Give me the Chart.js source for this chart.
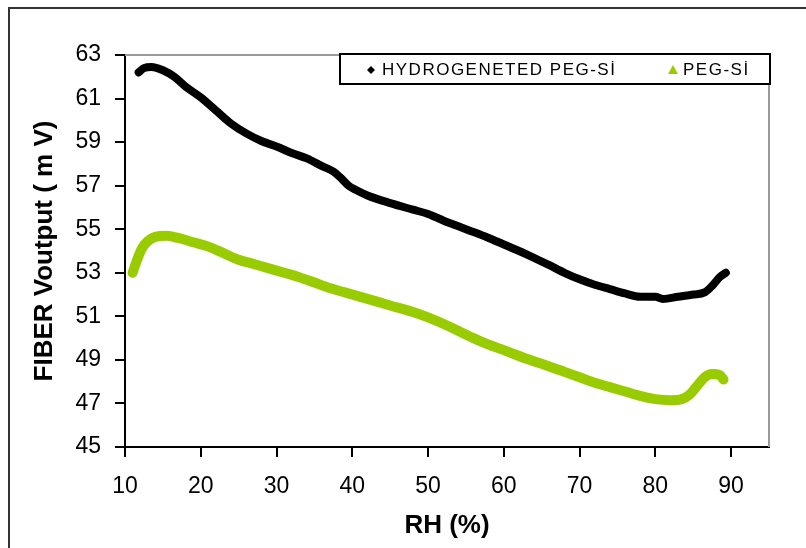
<!DOCTYPE html>
<html>
<head>
<meta charset="utf-8">
<script src="https://cdn.jsdelivr.net/npm/chart.js@4.4.1/dist/chart.umd.min.js"></script>
<style>
  body { margin: 0; background: #fff; }
  #wrap { width: 806px; height: 548px; }
</style>
</head>
<body>
<div id="wrap"><canvas id="grafico" width="806" height="548"></canvas></div>
<script>
// valores
const xTicks = [10, 20, 30, 40, 50, 60, 70, 80, 90];
const yTicks = [45, 47, 49, 51, 53, 55, 57, 59, 61, 63];

const serieNomes = ['HYDROGENETED PEG-Sİ', 'PEG-Sİ'];

const rhHidro = [11.8, 12.5, 13.5, 15, 16.5, 18, 20, 22, 24, 26, 28, 30, 32, 34, 36, 37.5, 38.5,
  39.5, 40.5, 42, 45, 48, 50, 52, 55, 58, 60, 63, 66, 68, 70, 72, 74, 76, 78, 80, 81, 83, 85,
  86.5, 87.5, 88.5, 89.3];
const vHidro = [62.2, 62.4, 62.45, 62.3, 62.0, 61.55, 61.05, 60.45, 59.85, 59.4, 59.05, 58.8,
  58.5, 58.25, 57.9, 57.65, 57.35, 57.0, 56.8, 56.55, 56.2, 55.9, 55.7, 55.4, 55.0, 54.6, 54.3,
  53.85, 53.35, 53.0, 52.7, 52.45, 52.25, 52.05, 51.9, 51.9, 51.8, 51.9, 52.0, 52.1, 52.4,
  52.8, 53.0];

const rhPeg = [11.0, 11.5, 12.2, 13, 14, 15.5, 17, 19, 21, 23, 25, 27, 29, 31, 33, 35, 37, 39,
  42, 45, 48, 50, 53, 56, 58, 60, 63, 66, 68, 70, 72, 74, 76, 78, 80, 82, 83.5, 84.5, 85.5,
  86.5, 87.5, 88.5, 89];
const vPeg = [53.0, 53.5, 54.1, 54.45, 54.65, 54.7, 54.6, 54.4, 54.2, 53.9, 53.6, 53.4, 53.2,
  53.0, 52.8, 52.55, 52.3, 52.1, 51.8, 51.5, 51.2, 50.95, 50.5, 50.0, 49.7, 49.45, 49.05, 48.7,
  48.45, 48.2, 47.95, 47.75, 47.55, 47.35, 47.2, 47.15, 47.2, 47.4, 47.8, 48.2, 48.35, 48.3, 48.1];

const pontos = (xs, ys) => xs.map((x, i) => ({ x: x, y: ys[i] }));

const fonte = 'Liberation Sans, Arial, sans-serif';

// moldura, bordas cinza e legenda com caixa
const moldura = {
  id: 'moldura',
  afterDraw(chart) {
    const ctx = chart.ctx;
    const a = chart.chartArea;
    ctx.save();
    // moldura externa
    ctx.strokeStyle = '#333';
    ctx.lineWidth = 2;
    ctx.beginPath();
    ctx.moveTo(9, 548);
    ctx.lineTo(9, 8);
    ctx.lineTo(806, 8);
    ctx.stroke();
    // bordas superior e direita da area
    ctx.strokeStyle = '#9a9a9a';
    ctx.lineWidth = 2;
    ctx.beginPath();
    ctx.moveTo(a.left, a.top);
    ctx.lineTo(a.right, a.top);
    ctx.lineTo(a.right, a.bottom);
    ctx.stroke();
    // caixa da legenda
    const bx = 340, by = 54, bw = 430, bh = 30;
    ctx.fillStyle = '#fff';
    ctx.fillRect(bx, by, bw, bh);
    ctx.strokeStyle = '#000';
    ctx.lineWidth = 2;
    ctx.strokeRect(bx, by, bw, bh);
    const ty = by + bh / 2 + 1;
    // marcador losango
    ctx.fillStyle = '#000';
    ctx.beginPath();
    ctx.moveTo(371, ty - 4);
    ctx.lineTo(375, ty);
    ctx.lineTo(371, ty + 4);
    ctx.lineTo(367, ty);
    ctx.closePath();
    ctx.fill();
    // marcador triangulo
    ctx.fillStyle = '#99cc00';
    ctx.beginPath();
    ctx.moveTo(673, ty - 5);
    ctx.lineTo(678, ty + 4);
    ctx.lineTo(668, ty + 4);
    ctx.closePath();
    ctx.fill();
    ctx.fillStyle = '#000';
    ctx.font = '17px ' + fonte;
    ctx.letterSpacing = '1.5px';
    ctx.textBaseline = 'middle';
    ctx.textAlign = 'left';
    ctx.fillText(serieNomes[0], 382, ty);
    ctx.fillText(serieNomes[1], 683, ty);
    ctx.restore();
  }
};

new Chart(document.getElementById('grafico'), {
  type: 'line',
  data: {
    datasets: [{
      label: serieNomes[0],
      data: pontos(rhHidro, vHidro),
      borderColor: '#000',
      backgroundColor: '#000',
      borderWidth: 8,
      borderCapStyle: 'round',
      borderJoinStyle: 'round',
      pointRadius: 0,
      cubicInterpolationMode: 'monotone'
    },
    {
      label: serieNomes[1],
      data: pontos(rhPeg, vPeg),
      borderColor: '#99cc00',
      backgroundColor: '#99cc00',
      borderWidth: 10,
      borderCapStyle: 'round',
      borderJoinStyle: 'round',
      pointRadius: 0,
      cubicInterpolationMode: 'monotone'
    }]
  },
  options: {
    responsive: false,
    animation: false,
    layout: { padding: { left: 0, right: 37, top: 55, bottom: 0 } },
    plugins: {
      legend: { display: false },
      tooltip: { enabled: false }
    },
    scales: {
      x: {
        type: 'linear',
        min: 10,
        max: 95,
        afterBuildTicks: (s) => { s.ticks = xTicks.map(v => ({ value: v })); },
        afterFit: (s) => { s.height = 101; },
        grid: { display: true, drawOnChartArea: false, drawTicks: true, tickLength: 10, color: '#000', lineWidth: 2 },
        border: { display: true, color: '#000', width: 2 },
        ticks: { color: '#000', padding: 16, maxRotation: 0, font: { family: fonte, size: 23 } },
        title: { display: true, text: 'RH (%)', color: '#000', padding: { bottom: 7 }, font: { family: fonte, size: 26, weight: 'bold' } }
      },
      y: {
        type: 'linear',
        min: 45,
        max: 63,
        afterBuildTicks: (s) => { s.ticks = yTicks.map(v => ({ value: v })); },
        afterFit: (s) => { s.width = 125; },
        grid: { display: true, drawOnChartArea: false, drawTicks: true, tickLength: 10, color: '#000', lineWidth: 2 },
        border: { display: true, color: '#000', width: 2 },
        ticks: { color: '#000', padding: 14, font: { family: fonte, size: 23 } },
        title: { display: true, text: 'FIBER Voutput ( m V)', color: '#000', padding: { top: 29 }, font: { family: fonte, size: 26, weight: 'bold' } }
      }
    }
  },
  plugins: [moldura]
});
</script>
</body>
</html>
